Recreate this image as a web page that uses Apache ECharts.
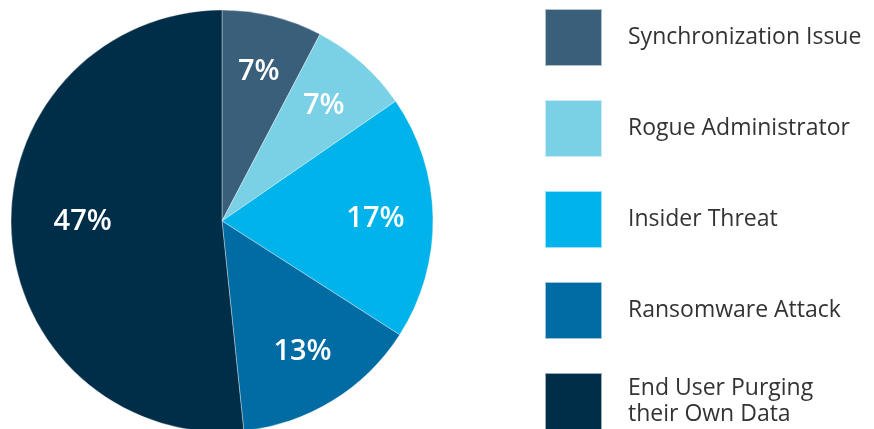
<!DOCTYPE html>
<html>
<head>
<meta charset="utf-8">
<script src="https://cdn.jsdelivr.net/npm/echarts@6/dist/echarts.min.js"></script>
<style>
html,body{margin:0;padding:0;background:#fff;}
#c{width:874px;height:429px;}
</style>
</head>
<body>
<div id="c"></div>
<script>
const categories = ['Synchronization Issue', 'Rogue Administrator', 'Insider Threat', 'Ransomware Attack', 'End User Purging their Own Data'];
const values = [7, 7, 17, 13, 47];
const colors = ['#3a5f7b', '#7ad0e4', '#00b3ea', '#006ca3', '#002d48'];

const chart = echarts.init(document.getElementById('c'));
const pieData = categories.map((n, i) => ({ name: n, value: values[i], itemStyle: { color: colors[i] } }));
const labelData = categories.map((n, i) => {
  const d = { name: n, value: values[i] };
  if (i === 4) d.label = { offset: [14, -7] };
  return d;
});

chart.setOption({
  animation: false,
  legend: {
    orient: 'vertical',
    left: 544,
    top: 8,
    height: 1000,
    padding: 0,
    itemWidth: 57,
    itemHeight: 57,
    itemGap: 32,
    icon: 'rect',
    selectedMode: false,
    data: categories.map((n, i) => ({ name: n, itemStyle: { color: colors[i] } })),
    formatter: function (name) {
      return name === 'End User Purging their Own Data' ? 'End User Purging\ntheir Own Data' : name;
    },
    textStyle: {
      fontFamily: 'Open Sans',
      fontSize: 23,
      color: '#333',
      lineHeight: 26,
      padding: [0, 0, 0, 21]
    }
  },
  series: [
    {
      type: 'pie',
      center: [222, 221],
      radius: [0, 211],
      startAngle: 90,
      clockwise: true,
      silent: true,
      label: { show: false },
      labelLine: { show: false },
      itemStyle: { borderColor: 'rgba(255,255,255,0.6)', borderWidth: 0.6 },
      data: pieData
    },
    {
      type: 'pie',
      center: [222, 221],
      radius: [90, 211],
      startAngle: 90,
      clockwise: true,
      silent: true,
      itemStyle: { color: 'rgba(0,0,0,0)' },
      label: {
        show: true,
        position: 'inside',
        formatter: '{c}%',
        color: '#fff',
        fontFamily: 'Open Sans',
        fontWeight: 600,
        fontSize: 29
      },
      labelLine: { show: false },
      data: labelData
    }
  ]
});
</script>
</body>
</html>
